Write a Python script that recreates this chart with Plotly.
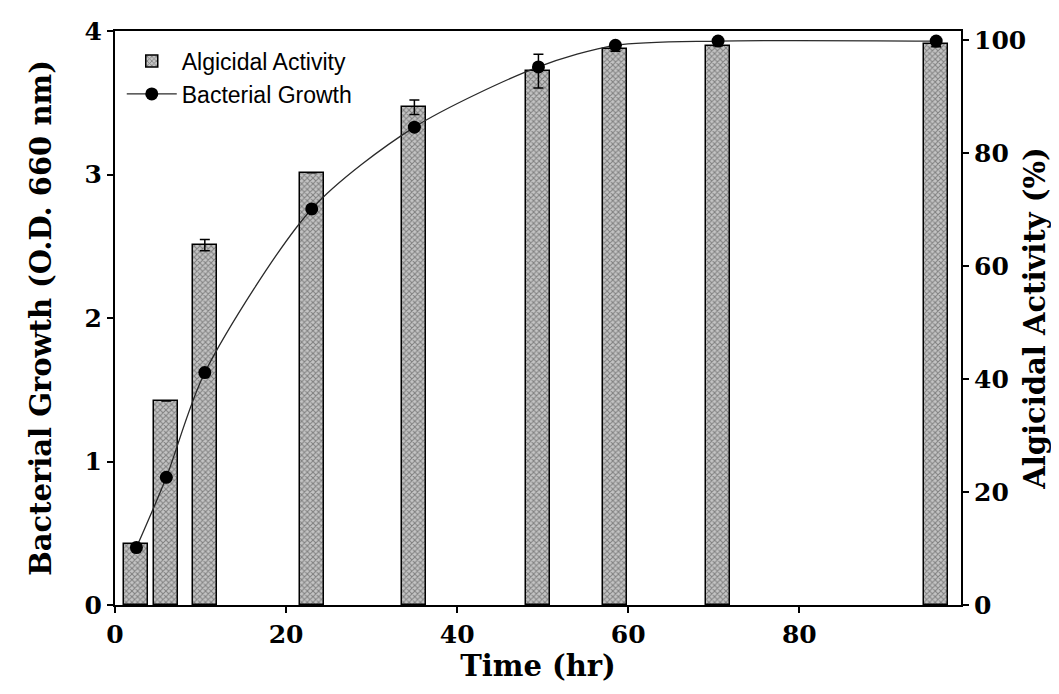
import plotly.graph_objects as go

# Data
time_hr = [2.5, 6, 10.5, 23, 35, 49.5, 58.5, 70.5, 96]
algicidal_pct = [10.8, 36.1, 63.7, 76.5, 88.1, 94.5, 98.5, 99.0, 99.3]
algicidal_err = [None, None, 1.0, None, 1.3, 3.0, 0.5, None, 0.5]
growth_od = [0.40, 0.89, 1.62, 2.76, 3.33, 3.75, 3.90, 3.93, 3.93]

left_ticks = [0, 1, 2, 3, 4]
right_ticks = [0, 20, 40, 60, 80, 100]
x_ticks = [0, 20, 40, 60, 80]

serif = "DejaVu Serif"
tick_font = dict(family=serif, size=25, color="black", weight="bold")
title_font = dict(family=serif, size=29, color="black", weight="bold")

fig = go.Figure()

fig.add_trace(go.Bar(
    x=time_hr, y=algicidal_pct, width=2.8,
    name="Algicidal Activity",
    yaxis="y",
    marker=dict(
        color="#b0b0b0",
        line=dict(color="black", width=1.5),
        pattern=dict(shape="x", fgcolor="#3a3a3a", bgcolor="#c4c4c4", size=4, solidity=0.45),
    ),
    error_y=dict(type="data", array=algicidal_err, visible=True, color="black", thickness=1.5, width=5),
))

fig.add_trace(go.Scatter(
    x=time_hr, y=growth_od,
    name="Bacterial Growth",
    yaxis="y2",
    mode="lines+markers",
    line=dict(color="#2a2a2a", width=1.3, shape="spline", smoothing=0.8),
    marker=dict(color="black", size=13),
))

fig.update_layout(
    width=1059, height=694,
    margin=dict(l=107, r=106, t=23, b=97),
    paper_bgcolor="white", plot_bgcolor="white",
    showlegend=True,
    legend=dict(
        x=0.008, y=0.985, xanchor="left", yanchor="top",
        bgcolor="rgba(0,0,0,0)",
        font=dict(family="Liberation Sans", size=23, color="black"),
        tracegroupgap=0, itemwidth=50,
    ),
    bargap=0,
    xaxis=dict(
        range=[0, 98.9], tickvals=x_ticks, ticktext=[str(v) for v in x_ticks],
        showline=True, linecolor="black", linewidth=2, mirror=True,
        ticks="outside", ticklen=6, tickwidth=1.5, tickcolor="black",
        showgrid=False, zeroline=False, automargin=False,
        tickfont=tick_font,
        title=dict(text="Time (hr)", font=title_font, standoff=4),
    ),
    yaxis=dict(
        side="right", range=[0, 101.6], tickvals=right_ticks,
        ticktext=[str(v) for v in right_ticks],
        showline=True, linecolor="black", linewidth=2,
        ticks="outside", ticklen=6, tickwidth=1.5, tickcolor="black",
        showgrid=False, zeroline=False, automargin=False,
        tickfont=tick_font,
        title=dict(text="Algicidal Activity (%)", font=title_font, standoff=0),
    ),
    yaxis2=dict(
        side="left", overlaying="y", range=[0, 4], tickvals=left_ticks,
        ticktext=[str(v) for v in left_ticks],
        showline=True, linecolor="black", linewidth=2,
        ticks="outside", ticklen=6, tickwidth=1.5, tickcolor="black",
        showgrid=False, zeroline=False, automargin=False,
        tickfont=tick_font,
        title=dict(text="Bacterial Growth (O.D. 660 nm)", font=title_font, standoff=24),
    ),
)

fig.write_html("out.html")
